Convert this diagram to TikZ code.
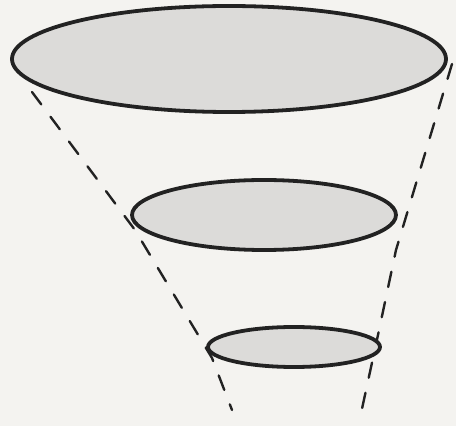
\documentclass[tikz,border=0pt]{standalone}
\usepackage{tikz}
\usepackage{xcolor}
\definecolor{paperwhite}{HTML}{F4F3F0}
\definecolor{discgray}{HTML}{DCDBD9}
\definecolor{inkblack}{HTML}{222222}

\begin{document}
\begin{tikzpicture}[x=0.025cm,y=-0.025cm]
  \fill[paperwhite] (0,0) rectangle (456,426);
  \useasboundingbox (0,0) rectangle (456,426);

  \draw[inkblack,line width=1.7pt,dash pattern=on 11pt off 11pt,line cap=round]
    (32,92) -- (135,230) -- (212,358) -- (232,410);
  \draw[inkblack,line width=1.7pt,dash pattern=on 11pt off 11pt,line cap=round]
    (452,64) -- (396,250) -- (378,335) -- (360,418);

  \draw[fill=discgray,draw=inkblack,line width=2.7pt] (229,59) ellipse (217 and 53);

  \draw[fill=discgray,draw=inkblack,line width=2.7pt] (264,215) ellipse (132 and 35);

  \draw[fill=discgray,draw=inkblack,line width=2.7pt] (294,347) ellipse (86 and 20);
\end{tikzpicture}
\end{document}
